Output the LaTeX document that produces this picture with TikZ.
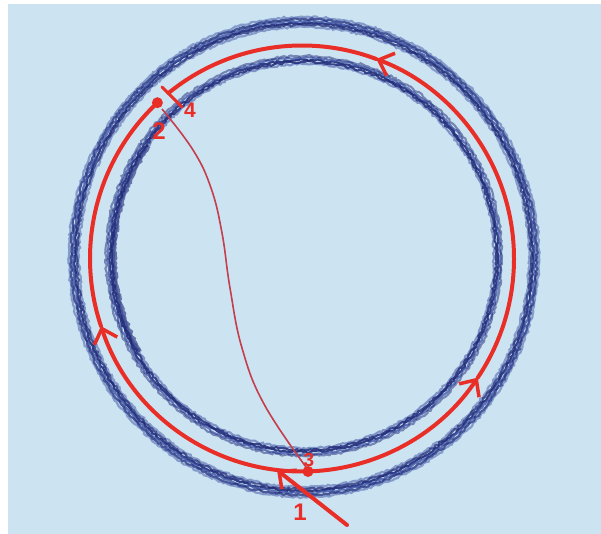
\documentclass[tikz,border=0pt]{standalone}
\usepackage{fontspec}
\setmainfont{Liberation Sans}
\usetikzlibrary{arrows.meta,decorations.pathmorphing}
\definecolor{paper}{RGB}{204,227,242}
\definecolor{pencil}{RGB}{32,42,120}
\definecolor{pencilB}{RGB}{62,84,165}
\definecolor{ink}{RGB}{232,46,38}
\definecolor{thinink}{RGB}{196,62,76}
\begin{document}
\begin{tikzpicture}[x=1pt,y=-1pt,
  redline/.style={ink, line width=4pt, line cap=round},
  barb/.style={-{Straight Barb[length=13pt,width=24pt,line width=3.5pt]}},
  lbl/.style={text=ink, font=\bfseries\fontsize{24}{24}\selectfont, inner sep=0pt},
  dotnode/.style={circle, fill=ink, minimum size=11pt, inner sep=0pt},
  rough/.style={decorate, decoration={random steps, segment length=2.5pt, amplitude=1pt}},
]
\useasboundingbox (0,0) rectangle (601,534);
\fill[white] (0,0) rectangle (601,534);
\fill[paper] (8,4) rectangle (601,534);

% blue pencil rings
\foreach \dd/\col/\op in {-5/pencilB/0.5, -3/pencil/0.75, -1/pencil/0.9, 1/pencilB/0.8, 3/pencil/0.75, 5/pencilB/0.5} {
  \draw[\col, line width=2.2pt, opacity=\op, rough] (304,257) ellipse [x radius=230+\dd, y radius=235+\dd];
}
\foreach \dd/\col/\op in {-4/pencilB/0.55, -2/pencil/0.85, 0/pencil/0.9, 2/pencilB/0.75, 4/pencil/0.5} {
  \draw[\col, line width=2.1pt, opacity=\op, rough] (304,256) ellipse [x radius=194+\dd, y radius=196+\dd];
}
\draw[pencil, line width=5pt, opacity=0.6, rough] (304,256) ++(150:190 and 192) arc[start angle=150, end angle=215, x radius=190, y radius=192];

% red circuit
\coordinate (C) at (302,258.5);
\path (C) ++(88.4:212 and 213) coordinate (a3);
\draw[redline, barb] (a3) arc[start angle=88.4, end angle=161.5, x radius=212, y radius=213] coordinate (aL);
\draw[redline] (aL) arc[start angle=161.5, end angle=227, x radius=212, y radius=213] coordinate (a2);
\draw[redline, barb] (a3) arc[start angle=88.4, end angle=34, x radius=212, y radius=213] coordinate (aR);
\draw[redline, barb] (aR) arc[start angle=34, end angle=-69.5, x radius=212, y radius=213] coordinate (aT);
\draw[redline] (aT) arc[start angle=-69.5, end angle=-129, x radius=212, y radius=213] coordinate (a4);

% tick at 4
\coordinate (t4a) at (162,87);
\coordinate (t4b) at (182,107);
\draw[redline, line width=3pt] (t4a) -- (t4b);

% entry line 1
\coordinate (s1) at (347,525);
\coordinate (e1) at (277,470);
\draw[redline, barb] (s1) -- (e1);

% dots
\node[dotnode] (p2) at (157.4,102.7) {};
\node[dotnode] (p3) at (308,471.5) {};

% thin curve from 2 to 3
\draw[thinink, line width=1.6pt] plot[smooth, tension=0.7] coordinates {(162,109) (193,150) (211,188) (222,233) (230,288) (242,348) (264,404) (306,467)};

% labels
\node[lbl] (l1) at (300,512) {1};
\node[lbl] (l2) at (159,131) {2};
\node[lbl, font=\bfseries\fontsize{19}{19}\selectfont] (l3) at (309,460) {3};
\node[lbl, font=\bfseries\fontsize{21}{21}\selectfont] (l4) at (190,110) {4};
\end{tikzpicture}
\end{document}
